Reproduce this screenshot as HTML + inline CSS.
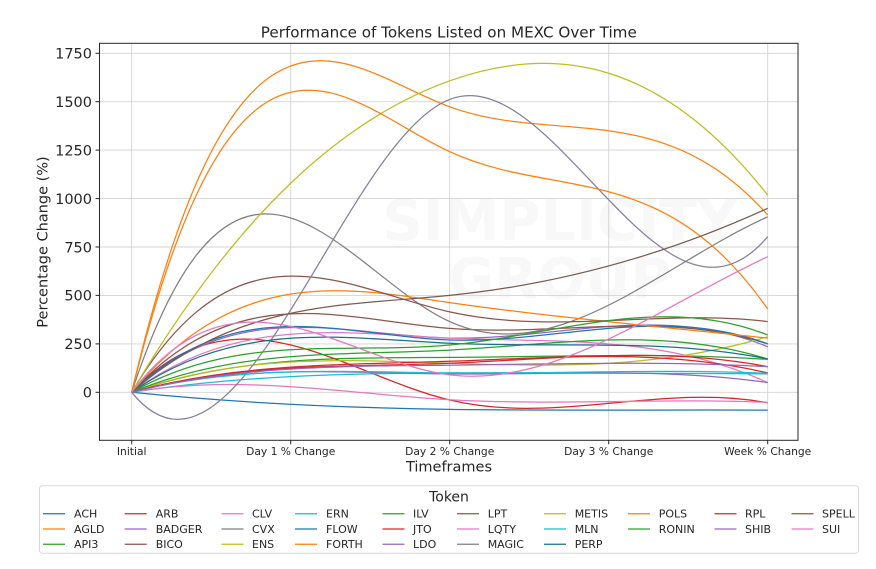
<!DOCTYPE html>
<html>
<head>
<meta charset="utf-8">
<style>
html,body{margin:0;padding:0;background:#fff;}
svg{display:block;}
text{font-family:"DejaVu Sans","Liberation Sans",sans-serif;fill:#262626;}
</style>
</head>
<body>
<svg width="876" height="569" viewBox="0 0 876 569" xmlns="http://www.w3.org/2000/svg">
<defs>
<clipPath id="plot"><rect x="99.5" y="43.3" width="698.5" height="397"/></clipPath>
</defs>
<rect x="0" y="0" width="876" height="569" fill="#fff"/>

<!-- title -->
<text x="448.8" y="37.7" font-size="14.8" text-anchor="middle" textLength="376" lengthAdjust="spacingAndGlyphs">Performance of Tokens Listed on MEXC Over Time</text>

<!-- watermark -->
<g font-weight="bold">
<text x="560" y="240" font-size="56" text-anchor="middle" style="fill:#f8f8f8">SIMPLICITY</text>
<text x="560" y="298" font-size="56" text-anchor="middle" style="fill:#f8f8f8">GROUP</text>
</g>

<!-- grid -->
<g stroke="#d3d3d3" stroke-width="0.9">
<line x1="131.7" y1="43.3" x2="131.7" y2="440.3"/>
<line x1="290.7" y1="43.3" x2="290.7" y2="440.3"/>
<line x1="449.7" y1="43.3" x2="449.7" y2="440.3"/>
<line x1="608.7" y1="43.3" x2="608.7" y2="440.3"/>
<line x1="767.7" y1="43.3" x2="767.7" y2="440.3"/>
<line x1="99.5" y1="392.3" x2="798" y2="392.3"/>
<line x1="99.5" y1="343.9" x2="798" y2="343.9"/>
<line x1="99.5" y1="295.4" x2="798" y2="295.4"/>
<line x1="99.5" y1="247.0" x2="798" y2="247.0"/>
<line x1="99.5" y1="198.6" x2="798" y2="198.6"/>
<line x1="99.5" y1="150.1" x2="798" y2="150.1"/>
<line x1="99.5" y1="101.7" x2="798" y2="101.7"/>
<line x1="99.5" y1="53.3" x2="798" y2="53.3"/>
</g>

<!-- series -->
<g clip-path="url(#plot)" fill="none" stroke-width="1.25">
<path stroke="#1f77b4" d="M131.7,392.3 C237.7,403.2 343.7,407.8 449.7,409.4 C555.7,410.9 661.7,409.6 767.7,410.1"/>
<path stroke="#ff7f0e" d="M131.7,392.3 C237.7,-58.8 343.7,68.1 449.7,106.8 C555.7,145.4 661.7,96.0 767.7,215.0"/>
<path stroke="#2ca02c" d="M131.7,392.3 C237.7,355.4 343.7,358.2 449.7,357.4 C555.7,356.7 661.7,352.4 767.7,359.4"/>
<path stroke="#d62728" d="M131.7,392.3 C237.7,281.3 343.7,374.7 449.7,400.0 C555.7,425.4 661.7,382.6 767.7,402.8"/>
<path stroke="#9467bd" d="M131.7,392.3 C237.7,293.7 343.7,336.0 449.7,338.1 C555.7,340.2 661.7,302.1 767.7,346.8"/>
<path stroke="#8c564b" d="M131.7,392.3 C237.7,276.6 343.7,320.1 449.7,328.4 C555.7,336.7 661.7,309.8 767.7,343.9"/>
<path stroke="#e377c2" d="M131.7,392.3 C237.7,314.5 343.7,333.2 449.7,338.1 C555.7,342.9 661.7,333.9 767.7,382.6"/>
<path stroke="#7f7f7f" d="M131.7,392.3 C237.7,70.1 343.7,273.1 449.7,321.6 C555.7,370.1 661.7,264.1 767.7,216.8"/>
<path stroke="#bcbd22" d="M131.7,392.3 C237.7,354.1 343.7,359.6 449.7,363.2 C555.7,366.8 661.7,368.5 767.7,336.7"/>
<path stroke="#17becf" d="M131.7,392.3 C237.7,375.7 343.7,373.5 449.7,372.9 C555.7,372.3 661.7,373.2 767.7,373.9"/>
<path stroke="#1f77b4" d="M131.7,392.3 C237.7,290.0 343.7,336.5 449.7,340.0 C555.7,343.5 661.7,304.2 767.7,343.9"/>
<path stroke="#ff7f0e" d="M131.7,392.3 C237.7,265.3 343.7,287.3 449.7,302.6 C555.7,317.9 661.7,326.6 767.7,338.1"/>
<path stroke="#2ca02c" d="M131.7,392.3 C237.7,348.0 343.7,355.6 449.7,350.1 C555.7,344.5 661.7,325.8 767.7,359.0"/>
<path stroke="#d62728" d="M131.7,392.3 C237.7,362.8 343.7,365.0 449.7,361.3 C555.7,357.6 661.7,348.2 767.7,372.9"/>
<path stroke="#9467bd" d="M131.7,392.3 C237.7,363.6 343.7,372.9 449.7,373.9 C555.7,374.9 661.7,367.4 767.7,382.6"/>
<path stroke="#8c564b" d="M131.7,392.3 C237.7,213.3 343.7,288.2 449.7,311.9 C555.7,335.6 661.7,308.2 767.7,321.6"/>
<path stroke="#e377c2" d="M131.7,392.3 C237.7,373.6 343.7,393.6 449.7,399.7 C555.7,405.7 661.7,397.9 767.7,402.4"/>
<path stroke="#857f9c" d="M131.7,392.3 C237.7,523.0 343.7,139.6 449.7,99.4 C555.7,59.1 661.7,362.0 767.7,236.7"/>
<path stroke="#bcbd22" d="M131.7,392.3 C237.7,212.3 343.7,118.7 449.7,80.8 C555.7,42.8 661.7,60.5 767.7,195.1"/>
<path stroke="#17becf" d="M131.7,392.3 C237.7,364.8 343.7,372.0 449.7,372.9 C555.7,373.9 661.7,368.7 767.7,373.3"/>
<path stroke="#1f6f8a" d="M131.7,392.3 C237.7,318.4 343.7,338.4 449.7,343.3 C555.7,348.2 661.7,337.8 767.7,359.0"/>
<path stroke="#ff7f0e" d="M131.7,392.3 C237.7,-38.2 343.7,102.8 449.7,151.7 C555.7,200.6 661.7,157.3 767.7,309.0"/>
<path stroke="#2ca02c" d="M131.7,392.3 C237.7,332.0 343.7,354.8 449.7,345.0 C555.7,335.3 661.7,293.0 767.7,335.0"/>
<path stroke="#d62728" d="M131.7,392.3 C237.7,362.8 343.7,367.4 449.7,363.2 C555.7,359.1 661.7,346.1 767.7,366.7"/>
<path stroke="#9467bd" d="M131.7,392.3 C237.7,365.3 343.7,366.3 449.7,365.2 C555.7,364.0 661.7,360.7 767.7,366.7"/>
<path stroke="#7a5a52" d="M131.7,392.3 C237.7,299.9 343.7,306.2 449.7,295.4 C555.7,284.6 661.7,256.8 767.7,208.3"/>
<path stroke="#e377c2" d="M131.7,392.3 C237.7,253.0 343.7,361.7 449.7,374.9 C555.7,388.0 661.7,305.6 767.7,256.7"/>
</g>

<!-- frame -->
<rect x="99.5" y="43.3" width="698.5" height="397" fill="none" stroke="#262626" stroke-width="1"/>

<!-- ticks -->
<g stroke="#262626" stroke-width="1">
<line x1="95.5" y1="392.3" x2="99.5" y2="392.3"/>
<line x1="95.5" y1="343.9" x2="99.5" y2="343.9"/>
<line x1="95.5" y1="295.4" x2="99.5" y2="295.4"/>
<line x1="95.5" y1="247.0" x2="99.5" y2="247.0"/>
<line x1="95.5" y1="198.6" x2="99.5" y2="198.6"/>
<line x1="95.5" y1="150.1" x2="99.5" y2="150.1"/>
<line x1="95.5" y1="101.7" x2="99.5" y2="101.7"/>
<line x1="95.5" y1="53.3" x2="99.5" y2="53.3"/>
<line x1="131.7" y1="440.3" x2="131.7" y2="444.3"/>
<line x1="290.7" y1="440.3" x2="290.7" y2="444.3"/>
<line x1="449.7" y1="440.3" x2="449.7" y2="444.3"/>
<line x1="608.7" y1="440.3" x2="608.7" y2="444.3"/>
<line x1="767.7" y1="440.3" x2="767.7" y2="444.3"/>
</g>

<!-- y tick labels -->
<g font-size="14.5" text-anchor="end">
<text x="92" y="397.6">0</text>
<text x="92" y="349.2">250</text>
<text x="92" y="300.7">500</text>
<text x="92" y="252.3">750</text>
<text x="92" y="203.9">1000</text>
<text x="92" y="155.4">1250</text>
<text x="92" y="107.0">1500</text>
<text x="92" y="58.6">1750</text>
</g>

<!-- x tick labels -->
<g font-size="10.7" text-anchor="middle">
<text x="131.7" y="455">Initial</text>
<text x="290.7" y="455">Day 1 % Change</text>
<text x="449.7" y="455">Day 2 % Change</text>
<text x="608.7" y="455">Day 3 % Change</text>
<text x="767.7" y="455">Week % Change</text>
</g>

<!-- axis labels -->
<text x="449" y="471.5" font-size="14.5" text-anchor="middle">Timeframes</text>
<text transform="translate(47.5,242) rotate(-90)" x="0" y="0" font-size="14.5" text-anchor="middle">Percentage Change (%)</text>

<!-- legend -->
<rect x="39.5" y="485.7" width="819" height="67.6" rx="3" ry="3" fill="#fff" stroke="#d9d9d9" stroke-width="1"/>
<text x="449" y="501.3" font-size="14" text-anchor="middle">Token</text>
<g stroke-width="1.25">
<line x1="43" y1="513.7" x2="65" y2="513.7" stroke="#1f77b4"/>
<line x1="43" y1="529" x2="65" y2="529" stroke="#ff7f0e"/>
<line x1="43" y1="544.2" x2="65" y2="544.2" stroke="#2ca02c"/>
<line x1="124.7" y1="513.7" x2="146.7" y2="513.7" stroke="#d62728"/>
<line x1="124.7" y1="529" x2="146.7" y2="529" stroke="#9467bd"/>
<line x1="124.7" y1="544.2" x2="146.7" y2="544.2" stroke="#8c564b"/>
<line x1="221.5" y1="513.7" x2="243.5" y2="513.7" stroke="#e377c2"/>
<line x1="221.5" y1="529" x2="243.5" y2="529" stroke="#7f7f7f"/>
<line x1="221.5" y1="544.2" x2="243.5" y2="544.2" stroke="#bcbd22"/>
<line x1="295" y1="513.7" x2="317" y2="513.7" stroke="#17becf"/>
<line x1="295" y1="529" x2="317" y2="529" stroke="#1f77b4"/>
<line x1="295" y1="544.2" x2="317" y2="544.2" stroke="#ff7f0e"/>
<line x1="382.5" y1="513.7" x2="404.5" y2="513.7" stroke="#2ca02c"/>
<line x1="382.5" y1="529" x2="404.5" y2="529" stroke="#d62728"/>
<line x1="382.5" y1="544.2" x2="404.5" y2="544.2" stroke="#9467bd"/>
<line x1="457" y1="513.7" x2="479" y2="513.7" stroke="#8c564b"/>
<line x1="457" y1="529" x2="479" y2="529" stroke="#e377c2"/>
<line x1="457" y1="544.2" x2="479" y2="544.2" stroke="#7f7f7f"/>
<line x1="544" y1="513.7" x2="566" y2="513.7" stroke="#bcbd22"/>
<line x1="544" y1="529" x2="566" y2="529" stroke="#17becf"/>
<line x1="544" y1="544.2" x2="566" y2="544.2" stroke="#1f6f8a"/>
<line x1="628" y1="513.7" x2="650" y2="513.7" stroke="#ff7f0e"/>
<line x1="628" y1="529" x2="650" y2="529" stroke="#2ca02c"/>
<line x1="714.5" y1="513.7" x2="736.5" y2="513.7" stroke="#d62728"/>
<line x1="714.5" y1="529" x2="736.5" y2="529" stroke="#9467bd"/>
<line x1="791.5" y1="513.7" x2="813.5" y2="513.7" stroke="#8c564b"/>
<line x1="791.5" y1="529" x2="813.5" y2="529" stroke="#e377c2"/>
</g>
<g font-size="11">
<text x="74" y="517.7">ACH</text>
<text x="74" y="533">AGLD</text>
<text x="74" y="548.2">API3</text>
<text x="155.7" y="517.7">ARB</text>
<text x="155.7" y="533">BADGER</text>
<text x="155.7" y="548.2">BICO</text>
<text x="252" y="517.7">CLV</text>
<text x="252" y="533">CVX</text>
<text x="252" y="548.2">ENS</text>
<text x="326" y="517.7">ERN</text>
<text x="326" y="533">FLOW</text>
<text x="326" y="548.2">FORTH</text>
<text x="413" y="517.7">ILV</text>
<text x="413" y="533">JTO</text>
<text x="413" y="548.2">LDO</text>
<text x="487.7" y="517.7">LPT</text>
<text x="487.7" y="533">LQTY</text>
<text x="487.7" y="548.2">MAGIC</text>
<text x="574.7" y="517.7">METIS</text>
<text x="574.7" y="533">MLN</text>
<text x="574.7" y="548.2">PERP</text>
<text x="658.7" y="517.7">POLS</text>
<text x="658.7" y="533">RONIN</text>
<text x="745" y="517.7">RPL</text>
<text x="745" y="533">SHIB</text>
<text x="822" y="517.7">SPELL</text>
<text x="822" y="533">SUI</text>
</g>
</svg>
</body>
</html>
